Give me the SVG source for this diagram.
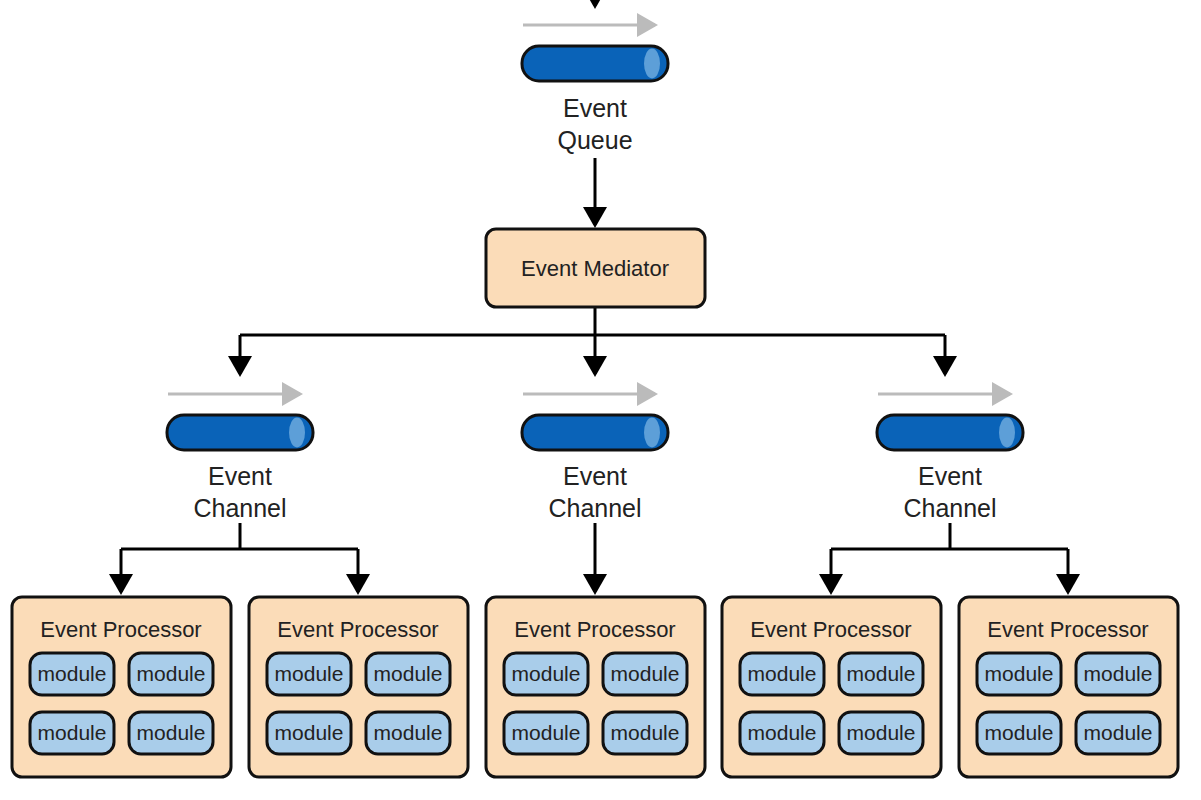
<svg xmlns="http://www.w3.org/2000/svg" width="1201" height="800" viewBox="0 0 1201 800">
<style>
text{font-family:"Liberation Sans",Arial,sans-serif;fill:#222;text-anchor:middle}
.lbl{font-size:25px}
.box{fill:#fbdcb8;stroke:#111;stroke-width:3}
.mod{fill:#a9cdea;stroke:#111;stroke-width:3}
.mt{font-size:21px}
.pt{font-size:22px}
.conn{fill:none;stroke:#000;stroke-width:3}
.flow{stroke:#bbb;stroke-width:3}
.cyl{fill:#0a63b8;stroke:#111;stroke-width:3}
.cap{fill:#5d9fd8}
</style>
<defs>
<marker id="ah" markerWidth="8" markerHeight="8" refX="6" refY="4" orient="auto" markerUnits="strokeWidth"><path d="M0,0 L7,4 L0,8 z" fill="#000"/></marker>
<marker id="gh" markerWidth="8" markerHeight="8" refX="6" refY="4" orient="auto" markerUnits="strokeWidth"><path d="M0,0 L7,4 L0,8 z" fill="#bbb"/></marker>
<g id="cylinder"><rect class="cyl" x="0" y="0" width="146" height="35" rx="17"/><ellipse class="cap" cx="130" cy="17.5" rx="8" ry="15"/></g>
<g id="mods">
<rect class="mod" x="18" y="56" width="84" height="42" rx="12"/><text class="mt" x="60" y="84">module</text>
<rect class="mod" x="117" y="56" width="84" height="42" rx="12"/><text class="mt" x="159" y="84">module</text>
<rect class="mod" x="18" y="115" width="84" height="42" rx="12"/><text class="mt" x="60" y="143">module</text>
<rect class="mod" x="117" y="115" width="84" height="42" rx="12"/><text class="mt" x="159" y="143">module</text>
</g>
</defs>
<g id="connectors">
<line class="conn" x1="595" y1="-5" x2="595" y2="6" marker-end="url(#ah)"/>
<line class="flow" x1="523" y1="25" x2="655" y2="25" marker-end="url(#gh)"/>
<line class="conn" x1="595" y1="158" x2="595" y2="225" marker-end="url(#ah)"/>
<path class="conn" d="M595,307 V335 M240,335 H945"/>
<line class="conn" x1="240" y1="335" x2="240" y2="374" marker-end="url(#ah)"/>
<line class="conn" x1="595" y1="335" x2="595" y2="374" marker-end="url(#ah)"/>
<line class="conn" x1="945" y1="335" x2="945" y2="374" marker-end="url(#ah)"/>
<line class="flow" x1="168" y1="394" x2="300" y2="394" marker-end="url(#gh)"/>
<line class="flow" x1="523" y1="394" x2="655" y2="394" marker-end="url(#gh)"/>
<line class="flow" x1="878" y1="394" x2="1010" y2="394" marker-end="url(#gh)"/>
<path class="conn" d="M240,523 V549 M121,549 H358"/>
<line class="conn" x1="121" y1="549" x2="121" y2="592" marker-end="url(#ah)"/>
<line class="conn" x1="358" y1="549" x2="358" y2="592" marker-end="url(#ah)"/>
<line class="conn" x1="595" y1="523" x2="595" y2="592" marker-end="url(#ah)"/>
<path class="conn" d="M950,523 V549 M831,549 H1068"/>
<line class="conn" x1="831" y1="549" x2="831" y2="592" marker-end="url(#ah)"/>
<line class="conn" x1="1068" y1="549" x2="1068" y2="592" marker-end="url(#ah)"/>
</g>
<g id="event-queue"><use href="#cylinder" x="522" y="46"/><text class="lbl" x="595" y="117">Event</text><text class="lbl" x="595" y="149">Queue</text></g>
<g id="event-mediator"><rect class="box" x="486" y="229" width="219" height="78" rx="10"/><text class="pt" x="595" y="276">Event Mediator</text></g>
<g id="channel-1"><use href="#cylinder" x="167" y="415"/><text class="lbl" x="240" y="485">Event</text><text class="lbl" x="240" y="517">Channel</text></g>
<g id="channel-2"><use href="#cylinder" x="522" y="415"/><text class="lbl" x="595" y="485">Event</text><text class="lbl" x="595" y="517">Channel</text></g>
<g id="channel-3"><use href="#cylinder" x="877" y="415"/><text class="lbl" x="950" y="485">Event</text><text class="lbl" x="950" y="517">Channel</text></g>
<g id="processor-1" transform="translate(12,597)"><rect class="box" width="219" height="180" rx="10"/><text class="pt" x="109" y="40">Event Processor</text><use href="#mods"/></g>
<g id="processor-2" transform="translate(249,597)"><rect class="box" width="219" height="180" rx="10"/><text class="pt" x="109" y="40">Event Processor</text><use href="#mods"/></g>
<g id="processor-3" transform="translate(486,597)"><rect class="box" width="219" height="180" rx="10"/><text class="pt" x="109" y="40">Event Processor</text><use href="#mods"/></g>
<g id="processor-4" transform="translate(722,597)"><rect class="box" width="219" height="180" rx="10"/><text class="pt" x="109" y="40">Event Processor</text><use href="#mods"/></g>
<g id="processor-5" transform="translate(959,597)"><rect class="box" width="219" height="180" rx="10"/><text class="pt" x="109" y="40">Event Processor</text><use href="#mods"/></g>
</svg>
